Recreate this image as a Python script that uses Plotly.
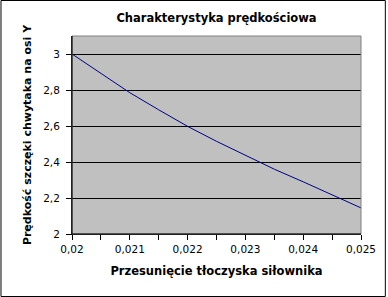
import plotly.graph_objects as go

# Data
x_vals = [0.020, 0.0205, 0.021, 0.0215, 0.022, 0.0225, 0.023, 0.0235, 0.024, 0.0245, 0.025]
y_vals = [3.00, 2.89, 2.785, 2.69, 2.598, 2.515, 2.437, 2.36, 2.29, 2.218, 2.145]

x_tickvals = [0.020, 0.021, 0.022, 0.023, 0.024, 0.025]
x_ticktext = ["0,02", "0,021", "0,022", "0,023", "0,024", "0,025"]
y_tickvals = [2.0, 2.2, 2.4, 2.6, 2.8, 3.0]
y_ticktext = ["2", "2,2", "2,4", "2,6", "2,8", "3"]

title = "Charakterystyka prędkościowa"
x_title = "Przesunięcie tłoczyska siłownika"
y_title = "Prędkość szczęki chwytaka na osi Y"

W, H = 388, 297
L, R, T, B = 72, 25, 36, 63
pw, ph = W - L - R, H - T - B

fig = go.Figure()
fig.add_trace(go.Scatter(x=x_vals, y=y_vals, mode="lines",
                         line=dict(color="#000080", width=1), showlegend=False,
                         hoverinfo="skip"))

font = "DejaVu Sans, Verdana, sans-serif"
fig.update_layout(
    width=W, height=H,
    margin=dict(l=L, r=R, t=T, b=B, pad=0),
    paper_bgcolor="white",
    plot_bgcolor="#c0c0c0",
    font=dict(family=font, size=10.5, color="black"),
    separators=", ",
    title=dict(text="<b>" + title + "</b>", x=0.5, xanchor="center",
               y=1 - 18 / H, yanchor="middle", xref="paper",
               font=dict(size=11.5, family=font)),
    xaxis=dict(range=[0.020, 0.025], tickvals=x_tickvals, ticktext=x_ticktext,
               ticks="outside", ticklen=5, tickcolor="black", tickwidth=1,
               minor=dict(dtick=0.0005, tick0=0.02, ticks="outside", ticklen=5,
                          tickcolor="black", showgrid=False),
               showgrid=False, zeroline=False, showline=True,
               linecolor="black", linewidth=1,
               tickfont=dict(size=10.5), ticklabelstandoff=0,
               title=dict(text="<b>" + x_title + "</b>", font=dict(size=11.5), standoff=13)),
    yaxis=dict(range=[2.0, 3.1], tickvals=y_tickvals, ticktext=y_ticktext,
               ticks="outside", ticklen=5, tickcolor="black", tickwidth=1,
               showgrid=True, gridcolor="black", gridwidth=1,
               zeroline=False, showline=True, linecolor="black", linewidth=1,
               tickfont=dict(size=10.5), ticklabelstandoff=4,
               title=dict(text="<b>" + y_title + "</b>", font=dict(size=11), standoff=9)),
)

# plot-area border (grey at top and right)
fig.add_shape(type="rect", xref="paper", yref="paper", x0=0, y0=0, x1=1, y1=1,
              line=dict(color="#808080", width=1), layer="above")
# redraw black axes over border
fig.add_shape(type="line", xref="paper", yref="paper", x0=0, y0=0, x1=1, y1=0,
              line=dict(color="black", width=1), layer="above")
fig.add_shape(type="line", xref="paper", yref="paper", x0=0, y0=0, x1=0, y1=1,
              line=dict(color="black", width=1), layer="above")
# outer border of the chart
fig.add_shape(type="rect", xref="paper", yref="paper",
              x0=(0.5 - L) / pw, x1=(W - 0.5 - L) / pw,
              y0=(H - B - (H - 0.5)) / ph, y1=(H - B - 0.5) / ph,
              line=dict(color="black", width=1), layer="above")

fig.write_html("out.html")
